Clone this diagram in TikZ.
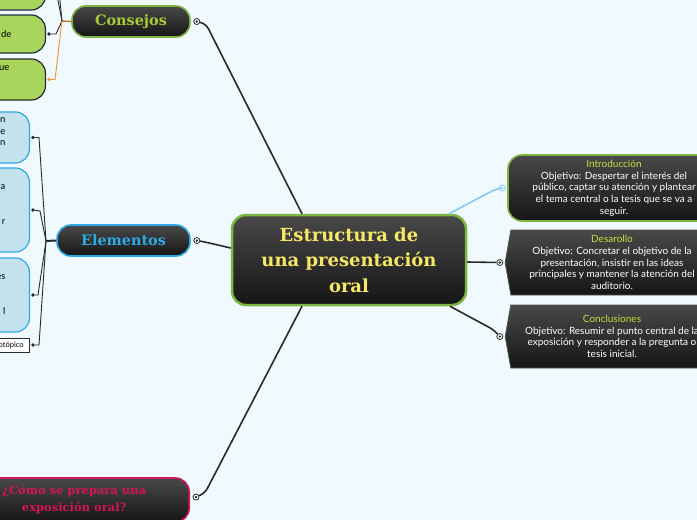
\documentclass[tikz,border=0pt]{standalone}
\usepackage{fontspec}
\setmainfont{Lato}
\newfontfamily\slab{DejaVu Serif Bold}
\usetikzlibrary{positioning,calc,shapes.symbols}

\definecolor{paper}{HTML}{F0F9FE}
\definecolor{shadetop}{HTML}{4A4949}
\definecolor{shadebot}{HTML}{151515}
\definecolor{leafgreen}{HTML}{A8D55B}
\definecolor{leafblue}{HTML}{C3E2EE}
\definecolor{rimgreen}{HTML}{7DB544}
\definecolor{rimblue}{HTML}{2EA9E4}
\definecolor{rimred}{HTML}{D4145A}
\definecolor{rimdark}{HTML}{505A48}
\definecolor{sunny}{HTML}{F6E866}
\definecolor{lime}{HTML}{A9CB3B}
\definecolor{titlelime}{HTML}{C9DB3E}
\definecolor{ink}{HTML}{2A2A2A}
\definecolor{skyline}{HTML}{86C9EA}
\definecolor{amber}{HTML}{F2952B}
\definecolor{rust}{HTML}{B97B30}
\definecolor{navy}{HTML}{1E2E40}

\begin{document}
\begin{tikzpicture}[x=1pt,y=-1pt,
  topic/.style={rounded corners=14pt, top color=shadetop, bottom color=shadebot, line width=1.6pt, minimum height=31pt, align=center, inner sep=0pt, font=\slab\fontsize{14.4}{17}\selectfont},
  note/.style={top color=shadetop, bottom color=shadebot, text=white, align=center, inner sep=0pt, font=\fontsize{10}{11.7}\selectfont},
  chevron/.style={note, signal, signal to=west, signal pointer angle=160, draw=rimdark, line width=0.8pt},
  leaf/.style={rounded corners=14pt, line width=1.2pt, align=right, text width=42pt, inner ysep=0pt, anchor=east, font=\fontsize{9.5}{11.7}\selectfont},
  knob/.style={circle, draw=#1, fill=white, line width=0.8pt, inner sep=0pt, minimum size=6pt, path picture={\fill[#1] (path picture bounding box.center) circle (1.3pt);}},
  tip/.style={circle, fill=#1, inner sep=0pt, minimum size=3.6pt},
  link/.style={draw=ink, line width=1.6pt, rounded corners=5pt},
  twig/.style={draw=ink, line width=0.9pt},
]
\clip (0,0) rectangle (697,520);
\fill[paper] (0,0) rectangle (697,520);

% central topic
\node[topic, draw=rimgreen, line width=2.5pt, text=sunny, minimum width=234pt, minimum height=90pt, font=\slab\fontsize{18}{25.5}\selectfont] (talk) at (349,260) {Estructura de\\una presentación\\oral};

% left topics
\node[topic, draw=rimgreen, text=lime, minimum width=118pt] (advice) at (131,21.5) {Consejos};
\node[topic, draw=rimblue, text=rimblue, minimum width=133pt] (parts) at (123.5,240.5) {Elementos};
\node[topic, draw=rimred, text=rimred, minimum width=230pt, minimum height=44pt, anchor=east, font=\slab\fontsize{11.5}{17}\selectfont] (howto) at (190,500) {¿Cómo se prepara una\\exposición oral?};

\node[knob=ink] (advice-knob) at ([xshift=6pt]advice.east) {};
\node[knob=ink] (parts-knob) at ([xshift=6pt]parts.east) {};
\node[knob=ink] (howto-knob) at ([xshift=6pt,yshift=3pt]howto.east) {};

% right topics
\node[note, draw=rimgreen, line width=1.6pt, rounded corners=14pt, minimum width=212pt, minimum height=66pt] (intro) at (614,188) {\textcolor{titlelime}{Introducción}\\Objetivo: Despertar el interés del\\público, captar su atención y plantear\\el tema central o la tesis que se va a\\seguir.};
\node[chevron, minimum width=208pt, minimum height=65pt] (body) at (612,262.5) {\textcolor{titlelime}{Desarollo}\\Objetivo: Concretar el objetivo de la\\presentación, insistir en las ideas\\principales y mantener la atención del\\auditorio.};
\node[chevron, minimum width=208pt, minimum height=63pt] (close) at (612,336.5) {\textcolor{titlelime}{Conclusiones}\\Objetivo: Resumir el punto central de la\\exposición y responder a la pregunta o\\tesis inicial.};

\node[knob=skyline] (intro-knob) at ([xshift=-5pt]intro.west) {};
\node[knob=ink] (body-knob) at ([xshift=-5pt]body.west) {};
\node[knob=ink] (close-knob) at ([xshift=-5pt]close.west) {};

\draw[link] ([xshift=-47pt]talk.north) -- (206,24) -- (advice-knob);
\draw[link] ([yshift=12pt]talk.west) -- (205,242) -- (parts-knob);
\draw[link] ([xshift=-47pt]talk.south) -- (205,493) -- (howto-knob);
\draw[link, draw=skyline] ([xshift=100pt]talk.north) -- (496,189) -- (intro-knob);
\draw[link] ([yshift=-2pt]talk.east) -- (body-knob);
\draw[link] ([xshift=101pt]talk.south) -- (494,330) -- (close-knob);

% leaves of Consejos
\node[leaf, fill=leafgreen, draw=navy, inner xsep=34pt, minimum height=50pt] (tip1) at (46,-15) {};
\node[leaf, fill=leafgreen, draw=navy, inner xsep=34pt, minimum height=38pt] (tip2) at (46,34) {de};
\node[leaf, fill=leafgreen, draw=ink, inner xsep=36pt, minimum height=41pt] (tip3) at (46,79.5) {ue\\\mbox{}\\\mbox{}};
\node[tip=ink] (tip1-dot) at ([xshift=3pt]tip1.east) {};
\node[tip=ink] (tip2-dot) at ([xshift=3pt]tip2.east) {};
\node[tip=amber] (tip3-dot) at ([xshift=3pt]tip3.east) {};
\coordinate (advice-fork) at (62,21);
\coordinate (advice-up) at (49,-70);
\draw[rust, line width=1.4pt] (advice.west) -- (advice-fork);
\draw[twig] (advice-fork) -- (55,-15) -- (tip1-dot);
\draw[twig] (advice-fork) -- (53,-70) -- (advice-up);
\draw[twig] (advice-fork) -- (56,34) -- (tip2-dot);
\draw[amber, line width=0.9pt] (advice-fork) -- (55,79.5) -- (tip3-dot);

% leaves of Elementos
\node[leaf, fill=leafblue, draw=rimblue, inner xsep=24pt, minimum height=51pt] (sub1) at (30,137.5) {n\\e\\n\\\mbox{}};
\node[leaf, fill=leafblue, draw=rimblue, inner xsep=24pt, minimum height=84pt] (sub2) at (30,210) {a\\\mbox{}\\\mbox{}\\r\\\mbox{}};
\node[leaf, fill=leafblue, draw=rimblue, inner xsep=24pt, minimum height=74pt] (sub3) at (30,295) {es\\\mbox{}\\\mbox{}\\l};
\node[draw=ink, fill=white, line width=0.8pt, inner xsep=6pt, minimum height=14pt, anchor=east, font=\fontsize{7.5}{9}\selectfont] (sub4) at (30,345) {Microtópico};
\node[tip=ink] (sub1-dot) at ([xshift=3pt]sub1.east) {};
\node[tip=ink] (sub2-dot) at ([xshift=3pt]sub2.east) {};
\node[tip=ink] (sub3-dot) at ([xshift=3pt]sub3.east) {};
\node[tip=ink] (sub4-dot) at ([xshift=3pt]sub4.east) {};
\coordinate (parts-fork) at (46,241);
\draw[ink, line width=2pt] (parts.west) -- (parts-fork);
\draw[twig] (parts-fork) -- (39,137.5) -- (sub1-dot);
\draw[twig] (parts-fork) -- (40,211) -- (sub2-dot);
\draw[twig] (parts-fork) -- (38,295) -- (sub3-dot);
\draw[twig] (parts-fork) -- (39,345) -- (sub4-dot);
\end{tikzpicture}
\end{document}
